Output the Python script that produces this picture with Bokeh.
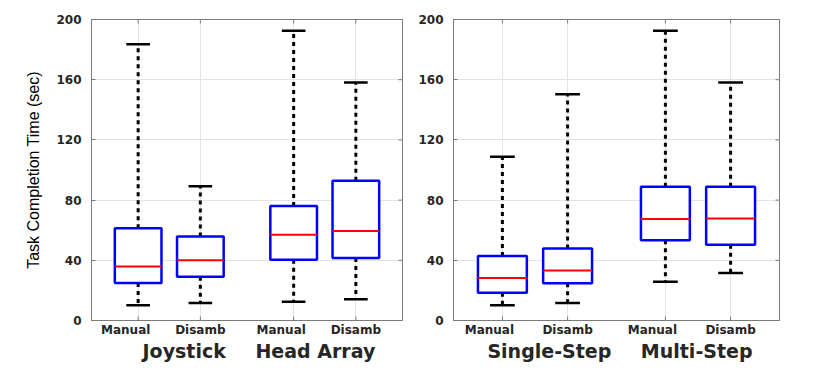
import numpy as np
from bokeh.plotting import figure
from bokeh.layouts import row
from bokeh.models import FixedTicker, LinearAxis, Range1d
from bokeh.embed import file_html
from bokeh.resources import INLINE

# ---- data ----
positions = [1, 2, 3.5, 4.5]
tick_labels = ["Manual", "Disamb", "Manual", "Disamb"]

left_groups = ["Joystick", "Head Array"]
left_group_pos = [1.74, 3.85]
left_lo = [10.2, 11.7, 12.4, 14.2]
left_q1 = [25.0, 29.0, 40.3, 41.6]
left_med = [35.8, 40.0, 56.9, 59.5]
left_q3 = [61.3, 55.8, 76.1, 92.9]
left_hi = [183.6, 89.2, 192.5, 158.2]

right_groups = ["Single-Step", "Multi-Step"]
right_group_pos = [1.72, 3.98]
right_lo = [10.2, 11.7, 25.7, 31.6]
right_q1 = [18.4, 24.8, 53.3, 50.4]
right_med = [28.3, 33.2, 67.5, 67.7]
right_q3 = [42.9, 47.8, 88.9, 88.9]
right_hi = [108.8, 150.4, 192.5, 158.2]

y_ticks = [0, 40, 80, 120, 160, 200]

X_START, X_END = 0.25, 5.25
Y_START, Y_END = 0, 200
BOX_W = 0.75
CAP_HALF = 0.19
LABEL_SHIFT = {"Manual": -0.2, "Disamb": 0.0}
FRAME = "#7a7a7a"
TXT = "#262626"


def make_panel(lo, q1, med, q3, hi, groups, group_pos, width, border_left, border_right, ylabel=None):
    p = figure(width=width, height=364, output_backend="svg", toolbar_location=None,
               x_range=Range1d(X_START, X_END), y_range=Range1d(Y_START, Y_END),
               min_border_left=border_left, min_border_right=border_right,
               min_border_top=19, min_border_bottom=42)
    p.outline_line_color = FRAME
    p.outline_line_width = 1
    pos = np.array(positions, dtype=float)
    lo, q1, med, q3, hi = map(np.array, (lo, q1, med, q3, hi))

    # grids
    p.xgrid.ticker = FixedTicker(ticks=positions)
    p.ygrid.ticker = FixedTicker(ticks=y_ticks)
    for g in (p.xgrid, p.ygrid):
        g.grid_line_color = "#e3e3e3"
        g.grid_line_width = 1

    # mirrored inward ticks (top, right, bottom)
    n_y = len(y_ticks)
    p.ray(x=[X_END] * n_y, y=y_ticks, length=4, length_units="screen", angle=np.pi,
          line_color=FRAME, line_width=1)
    p.ray(x=positions, y=[Y_END] * len(positions), length=4, length_units="screen",
          angle=-np.pi / 2, line_color=FRAME, line_width=1)
    p.ray(x=positions, y=[Y_START] * len(positions), length=4, length_units="screen",
          angle=np.pi / 2, line_color=FRAME, line_width=1)

    # whiskers
    p.segment(x0=pos, y0=q3, x1=pos, y1=hi, line_color="black", line_width=3, line_dash="4 4")
    p.segment(x0=pos, y0=q1, x1=pos, y1=lo, line_color="black", line_width=3, line_dash="4 4")
    # caps
    p.segment(x0=pos - CAP_HALF, y0=hi, x1=pos + CAP_HALF, y1=hi, line_color="black", line_width=2.5)
    p.segment(x0=pos - CAP_HALF, y0=lo, x1=pos + CAP_HALF, y1=lo, line_color="black", line_width=2.5)
    # boxes
    p.vbar(x=pos, width=BOX_W, bottom=q1, top=q3, fill_color="white", line_color="#0000ff", line_width=2.5)
    # medians
    p.segment(x0=pos - BOX_W / 2, y0=med, x1=pos + BOX_W / 2, y1=med, line_color="#ff0000", line_width=2)

    # y axis
    ya = p.yaxis[0]
    ya.ticker = FixedTicker(ticks=y_ticks)
    ya.major_tick_in = 4
    ya.major_tick_out = 0
    ya.minor_tick_line_color = None
    ya.axis_line_color = FRAME
    ya.major_tick_line_color = FRAME
    ya.major_label_text_font = "DejaVu Sans"
    ya.major_label_text_font_style = "bold"
    ya.major_label_text_font_size = "12px"
    ya.major_label_text_color = TXT
    ya.major_label_standoff = 10
    if ylabel:
        ya.axis_label = ylabel
        ya.axis_label_text_font = "Liberation Sans"
        ya.axis_label_text_font_style = "normal"
        ya.axis_label_text_font_size = "16px"
        ya.axis_label_text_color = "black"
        ya.axis_label_standoff = 11

    # x axis (category labels)
    xa = p.xaxis[0]
    label_ticks = [x + LABEL_SHIFT[t] for x, t in zip(positions, tick_labels)]
    xa.ticker = FixedTicker(ticks=label_ticks)
    xa.major_label_overrides = {t: lab for t, lab in zip(label_ticks, tick_labels)}
    xa.major_tick_in = 0
    xa.major_tick_out = 0
    xa.major_tick_line_color = None
    xa.minor_tick_line_color = None
    xa.axis_line_color = FRAME
    xa.major_label_text_font = "DejaVu Sans"
    xa.major_label_text_font_style = "bold"
    xa.major_label_text_font_size = "12px"
    xa.major_label_text_color = TXT
    xa.major_label_standoff = 2

    # group labels axis
    ga = LinearAxis(ticker=FixedTicker(ticks=group_pos),
                    major_label_overrides={g: n for g, n in zip(group_pos, groups)})
    ga.axis_line_color = None
    ga.major_tick_in = 0
    ga.major_tick_out = 0
    ga.major_tick_line_color = None
    ga.minor_tick_line_color = None
    ga.major_label_text_font = "DejaVu Sans"
    ga.major_label_text_font_style = "bold"
    ga.major_label_text_font_size = "19px"
    ga.major_label_text_color = TXT
    ga.major_label_standoff = 0
    p.add_layout(ga, "below")
    return p


p1 = make_panel(left_lo, left_q1, left_med, left_q3, left_hi, left_groups, left_group_pos,
                width=410, border_left=91, border_right=8, ylabel="Task Completion Time (sec)")
p2 = make_panel(right_lo, right_q1, right_med, right_q3, right_hi, right_groups, right_group_pos,
                width=379, border_left=43, border_right=10)

layout = row(p1, p2)
open("out.html", "w").write(file_html(layout, INLINE))
